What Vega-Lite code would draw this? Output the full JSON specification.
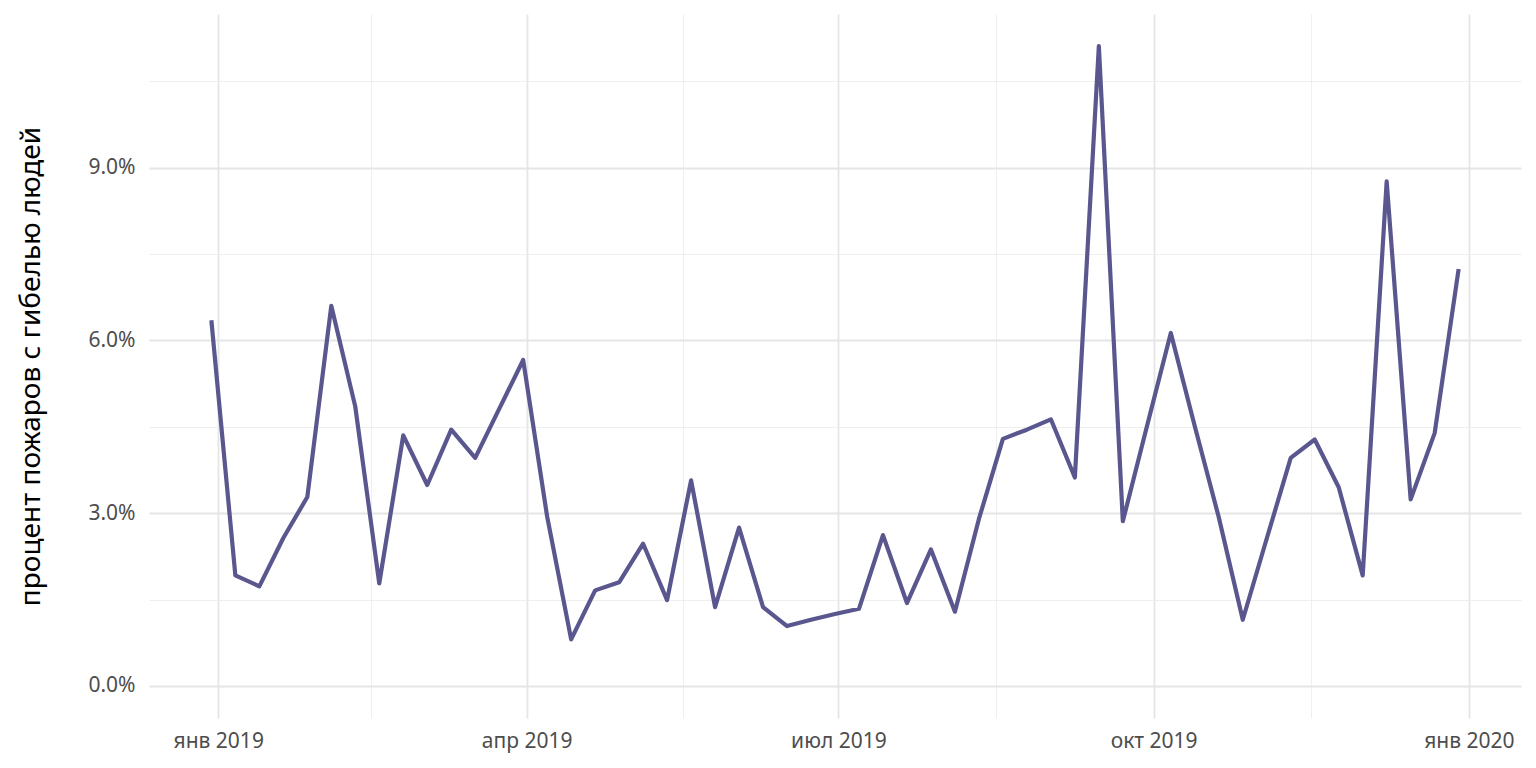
{
  "$schema": "https://vega.github.io/schema/vega-lite/v6.json",
  "width": 1372,
  "height": 704,
  "autosize": {"type": "none"},
  "padding": {"left": 149, "top": 14, "right": 15, "bottom": 50},
  "background": "white",
  "config": {
    "view": {"stroke": null},
    "font": "Noto Sans",
    "axis": {"domain": false, "ticks": false, "labelFont": "Noto Sans", "titleFont": "Noto Sans"}
  },
  "data": {
    "values": [
      {"date": "2018-12-30", "share": 0.0635},
      {"date": "2019-01-06", "share": 0.0192},
      {"date": "2019-01-13", "share": 0.0173},
      {"date": "2019-01-20", "share": 0.0257},
      {"date": "2019-01-27", "share": 0.0328},
      {"date": "2019-02-03", "share": 0.0660},
      {"date": "2019-02-10", "share": 0.0485},
      {"date": "2019-02-17", "share": 0.0178},
      {"date": "2019-02-24", "share": 0.0435},
      {"date": "2019-03-03", "share": 0.0349},
      {"date": "2019-03-10", "share": 0.0445},
      {"date": "2019-03-17", "share": 0.0396},
      {"date": "2019-03-24", "share": 0.0481},
      {"date": "2019-03-31", "share": 0.0566},
      {"date": "2019-04-07", "share": 0.0294},
      {"date": "2019-04-14", "share": 0.0081},
      {"date": "2019-04-21", "share": 0.0166},
      {"date": "2019-04-28", "share": 0.0180},
      {"date": "2019-05-05", "share": 0.0247},
      {"date": "2019-05-12", "share": 0.0149},
      {"date": "2019-05-19", "share": 0.0357},
      {"date": "2019-05-26", "share": 0.0137},
      {"date": "2019-06-02", "share": 0.0275},
      {"date": "2019-06-09", "share": 0.0137},
      {"date": "2019-06-16", "share": 0.0104},
      {"date": "2019-06-23", "share": 0.0115},
      {"date": "2019-06-30", "share": 0.0125},
      {"date": "2019-07-07", "share": 0.0134},
      {"date": "2019-07-14", "share": 0.0262},
      {"date": "2019-07-21", "share": 0.0144},
      {"date": "2019-07-28", "share": 0.0237},
      {"date": "2019-08-04", "share": 0.0129},
      {"date": "2019-08-11", "share": 0.0290},
      {"date": "2019-08-18", "share": 0.0429},
      {"date": "2019-08-25", "share": 0.0445},
      {"date": "2019-09-01", "share": 0.0463},
      {"date": "2019-09-08", "share": 0.0362},
      {"date": "2019-09-15", "share": 0.1111},
      {"date": "2019-09-22", "share": 0.0286},
      {"date": "2019-09-29", "share": 0.0450},
      {"date": "2019-10-06", "share": 0.0613},
      {"date": "2019-10-13", "share": 0.0451},
      {"date": "2019-10-20", "share": 0.0293},
      {"date": "2019-10-27", "share": 0.0115},
      {"date": "2019-11-03", "share": 0.0256},
      {"date": "2019-11-10", "share": 0.0396},
      {"date": "2019-11-17", "share": 0.0428},
      {"date": "2019-11-24", "share": 0.0345},
      {"date": "2019-12-01", "share": 0.0192},
      {"date": "2019-12-08", "share": 0.0876},
      {"date": "2019-12-15", "share": 0.0324},
      {"date": "2019-12-22", "share": 0.0439},
      {"date": "2019-12-29", "share": 0.0724}
    ]
  },
  "encoding": {
    "x": {
      "field": "date",
      "type": "temporal",
      "scale": {
        "type": "utc",
        "domain": [
          {"year": 2018, "month": 12, "date": 11, "hours": 19, "minutes": 12, "utc": true},
          {"year": 2020, "month": 1, "date": 16, "hours": 4, "minutes": 48, "utc": true}
        ],
        "nice": false
      }
    },
    "y": {
      "field": "share",
      "type": "quantitative",
      "scale": {"domain": [-0.00556, 0.11667], "nice": false, "zero": false}
    }
  },
  "layer": [
    {
      "mark": {"type": "line", "opacity": 0},
      "encoding": {
        "x": {
          "field": "date",
          "type": "temporal",
          "axis": {
            "orient": "bottom",
            "title": null,
            "labels": false,
            "grid": true,
            "gridColor": "#ebebeb",
            "gridWidth": 0.8,
            "zindex": 0,
            "values": [
              {"year": 2019, "month": 2, "date": 14, "hours": 12, "utc": true},
              {"year": 2019, "month": 5, "date": 16, "hours": 12, "utc": true},
              {"year": 2019, "month": 8, "date": 16, "utc": true},
              {"year": 2019, "month": 11, "date": 16, "utc": true}
            ]
          }
        },
        "y": {
          "field": "share",
          "type": "quantitative",
          "axis": {
            "orient": "left",
            "title": null,
            "labels": false,
            "grid": true,
            "gridColor": "#ebebeb",
            "gridWidth": 0.8,
            "zindex": 0,
            "values": [0.015, 0.045, 0.075, 0.105]
          }
        }
      }
    },
    {
      "mark": {"type": "line", "color": "#5a578f", "strokeWidth": 4.2, "strokeCap": "butt", "strokeJoin": "round"},
      "encoding": {
        "x": {
          "field": "date",
          "type": "temporal",
          "axis": {
            "orient": "bottom",
            "title": null,
            "grid": true,
            "gridColor": "#e5e5e5",
            "gridWidth": 1.8,
            "zindex": 0,
            "labelFontSize": 21,
            "labelColor": "#4d4d4d",
            "labelPadding": 12,
            "labelFlush": false,
            "values": [
              {"year": 2019, "month": 1, "date": 1, "utc": true},
              {"year": 2019, "month": 4, "date": 1, "utc": true},
              {"year": 2019, "month": 7, "date": 1, "utc": true},
              {"year": 2019, "month": 10, "date": 1, "utc": true},
              {"year": 2020, "month": 1, "date": 1, "utc": true}
            ],
            "labelExpr": "['янв','фев','мар','апр','май','июн','июл','авг','сен','окт','ноя','дек'][utcmonth(datum.value)] + ' ' + utcyear(datum.value)"
          }
        },
        "y": {
          "field": "share",
          "type": "quantitative",
          "axis": {
            "orient": "left",
            "title": "процент пожаров с гибелью людей",
            "titleFontSize": 28,
            "titleFontWeight": "normal",
            "titleColor": "#000000",
            "titlePadding": 42,
            "grid": true,
            "gridColor": "#e5e5e5",
            "gridWidth": 1.8,
            "zindex": 0,
            "labelFontSize": 21,
            "labelColor": "#4d4d4d",
            "labelPadding": 14,
            "values": [0, 0.03, 0.06, 0.09],
            "format": ".1%"
          }
        }
      }
    }
  ],
  "resolve": {"axis": {"x": "independent", "y": "independent"}}
}
